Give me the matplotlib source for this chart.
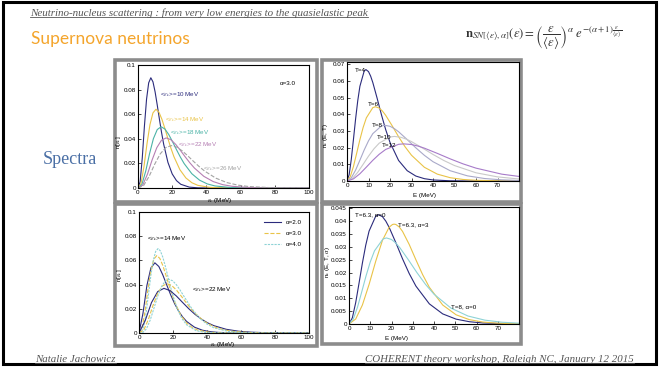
import matplotlib
matplotlib.use("Agg")
import matplotlib.pyplot as plt
from matplotlib.patches import Rectangle
from matplotlib.lines import Line2D

plt.rcParams["font.family"] = ["Liberation Sans", "DejaVu Sans"]
plt.rcParams["mathtext.fontset"] = "stix"

W, H = 659, 367

# ---------------- top left: alpha = 3, several mean energies
E10 = [0, 1.25, 2.5, 3.75, 5, 6.25, 7.5, 8.75, 10, 11.25, 12.5, 13.75, 15, 17.5, 20, 22.5, 25, 30, 35, 40, 100]
N10 = [0, .00505, .02453, .05020, .07218, .08551, .08962, .08631, .07815, .06749, .05615, .04533, .03569, .02085,
       .01145, .00600, .00303, .00071, .00015, .00003, 0]
E14 = [0, 1.75, 3.5, 5.25, 7, 8.75, 10.5, 12.25, 14, 15.75, 17.5, 19.25, 21, 24.5, 28, 31.5, 35, 42, 49, 56, 100]
N14 = [0, .00361, .01752, .03586, .05156, .06108, .06401, .06165, .05582, .04821, .04011, .03238, .02550, .01489,
       .00818, .00428, .00216, .00051, .00011, .00002, 0]
E18 = [0, 2.25, 4.5, 6.75, 9, 11.25, 13.5, 15.75, 18, 20.25, 22.5, 24.75, 27, 31.5, 36, 40.5, 45, 54, 63, 72, 100]
N18 = [0, .00281, .01363, .02789, .04010, .04750, .04979, .04795, .04342, .03749, .03119, .02518, .01983, .01158,
       .00636, .00333, .00168, .00039, .00008, .00002, 0]
E22 = [0, 2.75, 5.5, 8.25, 11, 13.75, 16.5, 19.25, 22, 24.75, 27.5, 30.25, 33, 38.5, 44, 49.5, 55, 66, 77, 88, 100]
N22 = [0, .00230, .01115, .02282, .03281, .03887, .04074, .03923, .03552, .03068, .02552, .02060, .01623, .00948,
       .00521, .00273, .00138, .00032, .00007, .00001, 0]
E26 = [0, 3.25, 6.5, 9.75, 13, 16.25, 19.5, 22.75, 26, 29.25, 32.5, 35.75, 39, 45.5, 52, 58.5, 65, 78, 91, 104]
N26 = [0, .00194, .00943, .01931, .02776, .03289, .03447, .03320, .03006, .02596, .02160, .01743, .01373, .00802,
       .00440, .00231, .00116, .00027, .00006, .00001]
tl_labels = ["10", "14", "18", "22", "26"]
tl_label_pos = [(13, 0.076), (15.8, 0.0553), (18.7, 0.0447), (23.4, 0.035), (38, 0.0155)]

# ---------------- top right: Fermi-Dirac, several temperatures
ET4 = [0, 1, 2, 3, 4, 5, 6, 8, 8.8, 10, 11, 12, 14, 16, 18, 20, 24, 28, 32, 36, 40, 48, 56, 80]
NT4 = [0, .00379, .01309, .02502, .03729, .04825, .05691, .06611, .06694, .06574, .06300, .05918, .04979, .03990,
       .03085, .02320, .01234, .00619, .00298, .00139, .00063, .00012, .00002, 0]
ET6 = [0, 1.5, 3, 4.5, 6, 7.5, 9, 12, 13.2, 15, 16.5, 18, 21, 24, 27, 30, 36, 42, 48, 54, 60, 72, 84]
NT6 = [0, .00253, .00873, .01668, .02486, .03216, .03794, .04407, .04463, .04382, .04200, .03945, .03319, .02660,
       .02057, .01547, .00823, .00413, .00198, .00092, .00042, .00008, .00002]
ET8 = [0, 2, 4, 6, 8, 10, 12, 16, 17.6, 20, 22, 24, 28, 32, 36, 40, 48, 56, 64, 72, 80, 96]
NT8 = [0, .00190, .00654, .01251, .01865, .02412, .02846, .03306, .03347, .03287, .03150, .02959, .02489, .01995,
       .01542, .01160, .00617, .00310, .00149, .00069, .00032, .00006]
ET10 = [0, 2.5, 5, 7.5, 10, 12.5, 15, 20, 22, 25, 27.5, 30, 35, 40, 45, 50, 60, 70, 80, 90]
NT10 = [0, .00152, .00524, .01001, .01492, .01930, .02276, .02644, .02678, .02629, .02520, .02367, .01991, .01596,
        .01234, .00928, .00494, .00248, .00119, .00055]
ET12 = [0, 3, 6, 9, 12, 15, 18, 24, 26.4, 30, 33, 36, 42, 48, 54, 60, 72, 84, 96]
NT12 = [0, .00127, .00436, .00834, .01243, .01608, .01897, .02204, .02231, .02191, .02100, .01973, .01660, .01330,
        .01028, .00773, .00411, .00206, .00099]
tr_labels = ["T=4", "T=6", "T=8", "T=10", "T=12"]
tr_label_pos = [(3.8, 0.0666), (9.5, 0.0462), (11.4, 0.0336), (13.7, 0.0264), (16.1, 0.0216)]

# ---------------- bottom left: alpha = 2, 3, 4 for <e> = 14 and 22 MeV
EA2_14 = [0, 2.333, 4.667, 7, 9.333, 11.667, 14, 16.333, 18.667, 21, 23.333, 25.667, 28, 32.667, 37.333, 42, 46.667,
          56, 65.333, 74.667, 100]
NA2_14 = [0, .01625, .03942, .05379, .05800, .05497, .04801, .03963, .03140, .02410, .01805, .01325, .00956, .00479,
          .00230, .00107, .00049, .00009, .00002, 0, 0]
EA4_14 = [0, 1.4, 2.8, 4.2, 5.6, 7, 8.4, 9.8, 11.2, 12.6, 14, 15.4, 16.8, 19.6, 22.4, 25.2, 28, 33.6, 39.2, 44.8, 100]
NA4_14 = [0, .00056, .00547, .01681, .03222, .04772, .06001, .06743, .06977, .06779, .06267, .05565, .04781, .03258,
          .02045, .01205, .00676, .00190, .00048, .00011, 0]
EA2_22 = [0, 3.667, 7.333, 11, 14.667, 18.333, 22, 25.667, 29.333, 33, 36.667, 40.333, 44, 51.333, 58.667, 66,
          73.333, 88, 102.667]
NA2_22 = [0, .01034, .02508, .03423, .03691, .03498, .03055, .02522, .01998, .01534, .01149, .00843, .00608, .00305,
          .00146, .00068, .00031, .00006, .00001]
EA4_22 = [0, 2.2, 4.4, 6.6, 8.8, 11, 13.2, 15.4, 17.6, 19.8, 22, 24.2, 26.4, 30.8, 35.2, 39.6, 44, 52.8, 61.6, 70.4, 100]
NA4_22 = [0, .00036, .00348, .01070, .02051, .03036, .03819, .04291, .04440, .04314, .03988, .03541, .03042, .02073,
          .01301, .00767, .00430, .00121, .00030, .00007, 0]
alpha_labels = ["\u03b1=2.0", "\u03b1=3.0", "\u03b1=4.0"]

# ---------------- bottom right: pinched Fermi-Dirac
EP0 = [0, 1.575, 3.15, 4.725, 6.3, 7.875, 9.45, 12.6, 13.86, 15.75, 17.325, 18.9, 22.05, 25.2, 28.35, 31.5, 37.8,
       44.1, 50.4, 56.7, 63, 75.6, 88.2]
NP0 = [0, .00241, .00831, .01589, .02368, .03063, .03613, .04198, .04250, .04174, .04000, .03757, .03161, .02533,
       .01959, .01473, .00784, .00393, .00189, .00088, .00040, .00008, .00001]
EP3 = [0, 3.15, 6.3, 9.45, 12.6, 15.75, 18.9, 20.475, 21.231, 22.05, 23.625, 25.2, 28.35, 31.5, 34.65, 37.8, 44.1,
       50.4, 56.7, 63, 69.3, 75.6, 88.2]
NP3 = [0, .00193, .00737, .01539, .02447, .03256, .03766, .03870, .03883, .03870, .03775, .03601, .03091, .02494,
       .01920, .01429, .00738, .00358, .00168, .00076, .00034, .00015, .00003]
br_labels = ["T=6.3, \u03b1=0", "T=6.3, \u03b1=3", "T=8, \u03b1=0"]
br_label_pos = [(2.8, 0.0423), (23.2, 0.0385), (47.8, 0.0066)]

NAVY = "#2b2b7c"
GOLD = "#e9c347"
TEAL = "#4bb3a6"
MAUVE = "#b57fb3"
GREY = "#a3a3a3"
LAV = "#a9a9c9"
LGREY = "#c9c9c9"
VIOLET = "#a77bc9"
LTEAL = "#8ed3d6"
TXT = "#555555"


def frac(x0, y0, x1, y1):
    """pixel box (top-left origin) -> figure fraction rect"""
    return [x0 / W, 1 - y1 / H, (x1 - x0) / W, (y1 - y0) / H]


def style_axes(ax, fs=4.5):
    ax.tick_params(direction="in", length=2, width=0.5, labelsize=fs, pad=1.5)
    for s in ax.spines.values():
        s.set_linewidth(0.8)


def underline(fig, txt, color):
    bb = txt.get_window_extent(fig.canvas.get_renderer())
    inv = fig.transFigure.inverted()
    (x0, y0), (x1, _) = inv.transform([(bb.x0, bb.y0), (bb.x1, bb.y0)])
    fig.add_artist(Line2D([x0, x1], [y0 + 0.002, y0 + 0.002], color=color, lw=0.6,
                          transform=fig.transFigure))


fig = plt.figure(figsize=(W / 100, H / 100), dpi=100)

# slide border and grey frames
fig.add_artist(Rectangle((3 / W, 1 - 364 / H), 653 / W, 362 / H, fill=False, ec="black", lw=2.2,
                         transform=fig.transFigure))
for box in [(115, 60, 317, 202), (322, 60, 521, 202), (115, 204, 317, 346), (322, 204, 521, 344)]:
    r = frac(*box)
    fig.add_artist(Rectangle((r[0], r[1]), r[2], r[3], fill=False, ec="#8c8c8c", lw=2.6,
                             transform=fig.transFigure, zorder=-1))

# header / footer texts
hdr = fig.text(30 / W, 1 - 16 / H, "Neutrino-nucleus scattering : from very low energies to the quasielastic peak",
               family="Liberation Serif", style="italic", fontsize=7.9, color=TXT, va="baseline")
fig.text(31 / W, 1 - 44 / H, "Supernova neutrinos", family="Lato", fontsize=12.5, color="#f4a52c",
         va="baseline")
fig.text(544 / W, 1 - 38 / H,
         r"$\mathbf{n}_{SN[\langle\varepsilon\rangle,\alpha]}(\varepsilon)=\left(\dfrac{\varepsilon}{\langle\varepsilon\rangle}\right)^{\alpha}\ e^{-(\alpha+1)\frac{\varepsilon}{\langle\varepsilon\rangle}}$",
         fontsize=9.2, ha="center", va="center", color="#333333")
fig.text(70 / W, 1 - 160 / H, "Spectra", family="Liberation Serif", fontsize=13, color="#4a6fa5",
         ha="center", va="center")
f1 = fig.text(35 / W, 1 - 362 / H, "Natalie Jachowicz", family="Liberation Serif", style="italic",
              fontsize=7.8, color=TXT, va="baseline")
f2 = fig.text(634 / W, 1 - 362 / H, "COHERENT theory workshop, Raleigh NC, January 12 2015",
              family="Liberation Serif", style="italic", fontsize=7.8, color=TXT, va="baseline", ha="right")

# ---- top left
ax1 = fig.add_axes(frac(138, 65, 309, 188))
tl_series = [(E10, N10, NAVY, "-"), (E14, N14, GOLD, "-"), (E18, N18, TEAL, "-"),
             (E22, N22, MAUVE, "-"), (E26, N26, GREY, "--")]
for (x, y, c, ls), lab, pos in zip(tl_series, tl_labels, tl_label_pos):
    ax1.plot(x, y, color=c, ls=ls, lw=0.8)
    ax1.text(pos[0], pos[1], r"<$\varepsilon_\nu$>=" + lab + " MeV", color=c, fontsize=4.5, va="center")
ax1.text(83, 0.085, "\u03b1=3.0", fontsize=4.5, va="center")
ax1.set_xlim(0, 100)
ax1.set_ylim(0, 0.1)
ax1.set_xticks([0, 20, 40, 60, 80, 100])
ax1.set_yticks([0, 0.02, 0.04, 0.06, 0.08, 0.1])
ax1.set_yticklabels(["0", "0.02", "0.04", "0.06", "0.08", "0.1"])
ax1.set_xlabel(r"$\varepsilon_\nu$ (MeV)", fontsize=4.5)
ax1.xaxis.set_label_coords(0.48, -0.062)
ax1.set_ylabel(r"n[$\varepsilon_\nu$]", fontsize=4.5)
ax1.yaxis.set_label_coords(-0.09, 0.37)
style_axes(ax1)

# ---- top right
ax2 = fig.add_axes(frac(347, 62, 519, 181))
tr_series = [(ET4, NT4, NAVY), (ET6, NT6, GOLD), (ET8, NT8, LAV), (ET10, NT10, LGREY), (ET12, NT12, VIOLET)]
for (x, y, c), lab, pos in zip(tr_series, tr_labels, tr_label_pos):
    ax2.plot(x, y, color=c, lw=0.8)
    ax2.text(pos[0], pos[1], lab, fontsize=4.5, va="center")
ax2.set_xlim(0, 80)
ax2.set_ylim(0, 0.0715)
ax2.set_xticks([0, 10, 20, 30, 40, 50, 60, 70])
ax2.set_yticks([0, 0.01, 0.02, 0.03, 0.04, 0.05, 0.06, 0.07])
ax2.set_yticklabels(["0", "0.01", "0.02", "0.03", "0.04", "0.05", "0.06", "0.07"])
ax2.set_xlabel("E (MeV)", fontsize=4.5)
ax2.xaxis.set_label_coords(0.45, -0.1)
ax2.set_ylabel(r"n$_\nu$ (E, T)", fontsize=4.5)
ax2.yaxis.set_label_coords(-0.1, 0.38)
style_axes(ax2)

# ---- bottom left
ax3 = fig.add_axes(frac(139, 212, 309, 333))
bl_series = [(EA2_14, NA2_14, NAVY, "-"), (E14, N14, GOLD, "--"), (EA4_14, NA4_14, LTEAL, (0, (2, 1))),
             (EA2_22, NA2_22, NAVY, "-"), (E22, N22, GOLD, "--"), (EA4_22, NA4_22, LTEAL, (0, (2, 1)))]
for x, y, c, ls in bl_series:
    ax3.plot(x, y, color=c, ls=ls, lw=0.8)
handles = [Line2D([], [], color=c, ls=ls, lw=0.8) for _, _, c, ls in bl_series[:3]]
ax3.legend(handles, alpha_labels, loc="upper right", frameon=False, fontsize=4.5, handlelength=2.6,
           labelspacing=0.9, borderaxespad=0.8)
ax3.text(4.7, 0.0777, r"<$\varepsilon_\nu$>=14 MeV", fontsize=4.5, va="center")
ax3.text(31, 0.036, r"<$\varepsilon_\nu$>=22 MeV", fontsize=4.5, va="center")
ax3.set_xlim(0, 100)
ax3.set_ylim(0, 0.1)
ax3.set_xticks([0, 20, 40, 60, 80, 100])
ax3.set_yticks([0, 0.02, 0.04, 0.06, 0.08, 0.1])
ax3.set_yticklabels(["0", "0.02", "0.04", "0.06", "0.08", "0.1"])
ax3.set_xlabel(r"$\varepsilon_\nu$ (MeV)", fontsize=4.5)
ax3.xaxis.set_label_coords(0.49, -0.055)
ax3.set_ylabel(r"n[$\varepsilon_\nu$]", fontsize=4.5)
ax3.yaxis.set_label_coords(-0.09, 0.48)
style_axes(ax3)

# ---- bottom right
ax4 = fig.add_axes(frac(349, 207, 519, 324))
br_series = [(EP0, NP0, NAVY), (EP3, NP3, GOLD), (ET8, NT8, LTEAL)]
for (x, y, c), lab, pos in zip(br_series, br_labels, br_label_pos):
    ax4.plot(x, y, color=c, lw=0.8)
    ax4.text(pos[0], pos[1], lab, fontsize=4.5, va="center")
ax4.set_xlim(0, 80)
ax4.set_ylim(0, 0.0455)
ax4.set_xticks([0, 10, 20, 30, 40, 50, 60, 70])
ax4.set_yticks([0, 0.005, 0.01, 0.015, 0.02, 0.025, 0.03, 0.035, 0.04, 0.045])
ax4.set_yticklabels(["0", "0.005", "0.01", "0.015", "0.02", "0.025", "0.03", "0.035", "0.04", "0.045"])
ax4.set_xlabel("E (MeV)", fontsize=4.5)
ax4.xaxis.set_label_coords(0.28, -0.1)
ax4.set_ylabel(r"n$_\nu$ (E, T, $\alpha$)", fontsize=4.5)
ax4.yaxis.set_label_coords(-0.1, 0.53)
style_axes(ax4)

fig.canvas.draw()
for t in (hdr, f1, f2):
    underline(fig, t, TXT)

fig.savefig("out.png", dpi=100)
